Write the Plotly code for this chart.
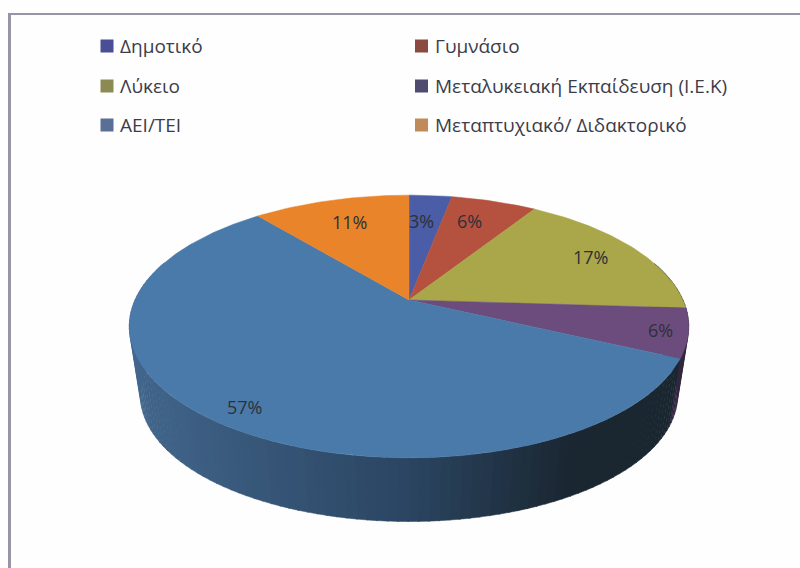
import numpy as np
import plotly.graph_objects as go

categories = ["Δημοτικό", "Γυμνάσιο", "Λύκειο", "Μεταλυκειακή Εκπαίδευση (Ι.Ε.Κ)", "ΑΕΙ/ΤΕΙ", "Μεταπτυχιακό/ Διδακτορικό"]
values = [3, 6, 17, 6, 57, 11]
slice_colors = ["#4a5da6", "#b4523f", "#a9a749", "#6b4c7d", "#4a7aaa", "#e9842b"]
legend_colors = ["#4a4f95", "#8a4a42", "#8a8a52", "#4f4a70", "#5a6f95", "#c08a5a"]
label_radius = [0.72, 0.77, 0.806, 0.90, 0.92, 0.755]
label_xshift = [-4, -7, -2, 1, 17, 2]

CX, CY, A, B, K = 409, 300, 274, 126, 0.2016
SCALE, DROP = 0.96, 70
FONT = "Open Sans"


def project(theta, r=1.0, scale=1.0, dy=0.0):
    u, v = r * np.sin(theta), r * np.cos(theta)
    w = 1 + K * v
    return CX + scale * A * u / w, CY + dy - scale * B * v / w


def mix(c1, c2, t):
    a = [int(c1[i:i + 2], 16) for i in (1, 3, 5)]
    b = [int(c2[i:i + 2], 16) for i in (1, 3, 5)]
    return "rgb(%d,%d,%d)" % tuple(a[i] + (b[i] - a[i]) * t for i in range(3))


fig = go.Figure()
edges = 2 * np.pi * np.concatenate([[0], np.cumsum(values)]) / sum(values)

# side wall, only the front part is visible
for i, val in enumerate(values):
    n = max(int(val * 2), 2)
    steps = np.linspace(edges[i], edges[i + 1], n + 1)
    for a0, a1 in zip(steps[:-1], steps[1:]):
        mid = (a0 + a1) / 2
        if np.cos(mid) > 0.3:
            continue
        xm, _ = project(mid)
        t = (xm - 131) / (689 - 131)
        if i == 3:
            col = "#33263f"
        elif t < 0.5:
            col = mix("#42668c", "#2b4562", t / 0.5)
        else:
            col = mix("#2b4562", "#1a2630", min((t - 0.5) / 0.3, 1))
        th = np.linspace(a0, a1 + 0.004, 4)
        xt, yt = project(th)
        xb, yb = project(th[::-1], scale=SCALE, dy=DROP)
        fig.add_trace(go.Scatter(x=np.r_[xt, xb], y=np.r_[yt, yb], fill="toself", fillcolor=col,
                                 mode="lines", line=dict(width=0.5, color=col),
                                 hoverinfo="skip", showlegend=False))

# top face
for i, val in enumerate(values):
    th = np.linspace(edges[i], edges[i + 1], max(int(val * 4), 8))
    x, y = project(th)
    fig.add_trace(go.Scatter(x=np.r_[CX, x, CX], y=np.r_[CY, y, CY], fill="toself",
                             fillcolor=slice_colors[i], mode="lines",
                             line=dict(width=0.5, color=slice_colors[i]),
                             name=categories[i], hoverinfo="name", showlegend=False))

# data labels
cum = np.cumsum(values) - np.array(values) / 2
for i, val in enumerate(values):
    x, y = project(2 * np.pi * cum[i] / sum(values), r=label_radius[i])
    fig.add_annotation(x=x, y=y, text=f"{val}%", showarrow=False, xshift=label_xshift[i],
                       font=dict(family=FONT, size=18, color="#2e3038"))

# legend
col_x = [107, 421.5]
row_y = [46, 86, 125]
for i, name in enumerate(categories):
    fig.add_trace(go.Scatter(x=[col_x[i % 2]], y=[row_y[i // 2]], mode="markers",
                             marker=dict(symbol="square", size=13, color=legend_colors[i]),
                             hoverinfo="skip", showlegend=False))
    fig.add_annotation(x=col_x[i % 2] + 11, y=row_y[i // 2], text=name, showarrow=False,
                       xanchor="left", font=dict(family=FONT, size=19, color="#3c3c4a"))

# frame
frame = "#9595a5"
fig.add_shape(type="line", x0=9.5, x1=9.5, y0=13, y1=568, line=dict(color=frame, width=3))
fig.add_shape(type="line", x0=8, x1=800, y0=14, y1=14, line=dict(color=frame, width=2))

fig.update_layout(
    width=800, height=568, autosize=False,
    margin=dict(l=0, r=0, t=0, b=0),
    paper_bgcolor="#fefefe", plot_bgcolor="#fefefe",
    xaxis=dict(range=[0, 800], visible=False, fixedrange=True),
    yaxis=dict(range=[568, 0], visible=False, fixedrange=True),
)
fig.write_html("out.html", config={"displayModeBar": False},
               post_script="document.body.style.margin='0';document.body.style.overflow='hidden';")
